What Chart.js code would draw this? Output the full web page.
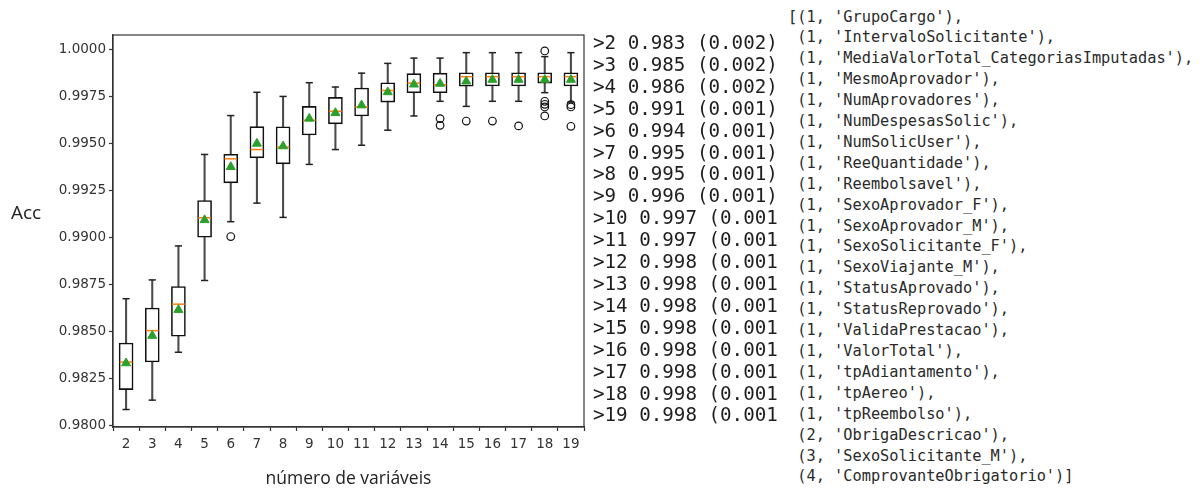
<!DOCTYPE html>
<html>
<head>
<meta charset="utf-8">
<script src="https://cdn.jsdelivr.net/npm/chart.js@4.4.0/dist/chart.umd.min.js"></script>
<style>
  html, body { margin: 0; padding: 0; background: #fff; }
  #wrap { position: relative; width: 1203px; height: 489px; overflow: hidden; }
  #chart { position: absolute; left: 0; top: 0; }
  pre { position: absolute; margin: 0; font-family: "DejaVu Sans Mono", monospace; color: #2a2a2a; white-space: pre; overflow: hidden; }
  #scores { left: 593px; top: 32px; font-size: 19.2px; line-height: 21.9px; width: 186px; color: #1e1e1e; }
  #features { left: 788px; top: 6.5px; font-size: 15.3px; line-height: 20.9px; }
</style>
</head>
<body>
<div id="wrap">
  <canvas id="chart" width="600" height="489"></canvas>
  <pre id="scores"></pre>
  <pre id="features"></pre>
</div>
<script>
'use strict';

// number of variables (x categories)
const numVars = [2, 3, 4, 5, 6, 7, 8, 9, 10, 11, 12, 13, 14, 15, 16, 17, 18, 19];

// boxplot stats
const whiskerLow  = [0.98083, 0.98133, 0.98388, 0.98770, 0.99083, 0.99182, 0.99106, 0.99388, 0.99467, 0.99490, 0.99570, 0.99646, 0.99724, 0.99697, 0.99724, 0.99724, 0.99770, 0.99720];
const q1          = [0.98189, 0.98336, 0.98473, 0.99000, 0.99290, 0.99423, 0.99391, 0.99545, 0.99604, 0.99646, 0.99720, 0.99770, 0.99770, 0.99804, 0.99806, 0.99806, 0.99821, 0.99806];
const median      = [0.98336, 0.98503, 0.98644, 0.99104, 0.99418, 0.99467, 0.99480, 0.99623, 0.99671, 0.99694, 0.99782, 0.99821, 0.99812, 0.99855, 0.99855, 0.99855, 0.99855, 0.99855];
const q3          = [0.98437, 0.98623, 0.98738, 0.99196, 0.99442, 0.99589, 0.99588, 0.99697, 0.99745, 0.99795, 0.99823, 0.99871, 0.99874, 0.99876, 0.99876, 0.99876, 0.99876, 0.99876];
const whiskerHigh = [0.98673, 0.98773, 0.98954, 0.99441, 0.99648, 0.99772, 0.99750, 0.99823, 0.99800, 0.99874, 0.99926, 0.99954, 0.99954, 0.99983, 0.99983, 0.99983, 0.99962, 0.99983];
const meanAcc     = [0.98330, 0.98476, 0.98614, 0.99092, 0.99375, 0.99499, 0.99485, 0.99632, 0.99662, 0.99703, 0.99773, 0.99814, 0.99818, 0.99830, 0.99839, 0.99839, 0.99839, 0.99839];
const outliers = [
  [], [], [], [], [0.99004], [], [], [], [], [], [], [],
  [0.99632, 0.99596], [0.99619], [0.99619], [0.99593],
  [0.99992, 0.99724, 0.99708, 0.99694, 0.99646],
  [0.99706, 0.99694, 0.99591]
];

const yTicks = [0.98, 0.9825, 0.985, 0.9875, 0.99, 0.9925, 0.995, 0.9975, 1.0];

// printed summary on the right
const meanText = ['0.983', '0.985', '0.986', '0.991', '0.994', '0.995', '0.995', '0.996', '0.997', '0.997', '0.998', '0.998', '0.998', '0.998', '0.998', '0.998', '0.998', '0.998'];
const stdText  = ['0.002', '0.002', '0.002', '0.001', '0.001', '0.001', '0.001', '0.001', '0.001', '0.001', '0.001', '0.001', '0.001', '0.001', '0.001', '0.001', '0.001', '0.001'];

const featureRank = [1, 1, 1, 1, 1, 1, 1, 1, 1, 1, 1, 1, 1, 1, 1, 1, 1, 1, 1, 1, 2, 3, 4];
const featureName = ['GrupoCargo', 'IntervaloSolicitante', 'MediaValorTotal_CategoriasImputadas', 'MesmoAprovador',
  'NumAprovadores', 'NumDespesasSolic', 'NumSolicUser', 'ReeQuantidade', 'Reembolsavel', 'SexoAprovador_F',
  'SexoAprovador_M', 'SexoSolicitante_F', 'SexoViajante_M', 'StatusAprovado', 'StatusReprovado', 'ValidaPrestacao',
  'ValorTotal', 'tpAdiantamento', 'tpAereo', 'tpReembolso', 'ObrigaDescricao', 'SexoSolicitante_M', 'ComprovanteObrigatorio'];

// text blocks
document.getElementById('scores').textContent =
  numVars.map((n, i) => '>' + n + ' ' + meanText[i] + ' (' + stdText[i] + ')').join('\n');
document.getElementById('features').textContent =
  '[' + featureName.map((f, i) => '(' + featureRank[i] + ", '" + f + "')").join(',\n ') + ']';

// datasets built from the arrays
const boxData = numVars.map((n, i) => ({ x: n, y: [q1[i], q3[i]] }));
const whiskerData = numVars.map((n, i) => ({ x: n, y: [whiskerLow[i], whiskerHigh[i]] }));
const capData = [];
numVars.forEach((n, i) => {
  capData.push({ x: n, y: whiskerLow[i] });
  capData.push({ x: n, y: whiskerHigh[i] });
});
const medianData = numVars.map((n, i) => ({ x: n, y: median[i] }));
const meanData = numVars.map((n, i) => ({ x: n, y: meanAcc[i] }));
const outlierData = [];
numVars.forEach((n, i) => outliers[i].forEach(v => outlierData.push({ x: n, y: v })));

const framePlugin = {
  id: 'frame',
  beforeDatasetsDraw(chart) {
    const a = chart.chartArea, ctx = chart.ctx;
    ctx.save();
    ctx.strokeStyle = '#333';
    ctx.lineWidth = 1.2;
    ctx.strokeRect(a.left, a.top, a.right - a.left, a.bottom - a.top);
    ctx.restore();
  },
  afterDraw(chart) {
    const a = chart.chartArea, ctx = chart.ctx;
    ctx.save();
    ctx.fillStyle = '#222';
    ctx.textBaseline = 'middle';
    ctx.font = '19px "Open Sans"';
    ctx.textAlign = 'left';
    ctx.fillText('Acc', 11, 214);
    ctx.font = '17.5px "Open Sans"';
    ctx.textAlign = 'center';
    ctx.fillText('número de variáveis', (a.left + a.right) / 2, 479);
    ctx.restore();
  }
};

const pointDefaults = { showLine: false, pointHoverRadius: 0 };

new Chart(document.getElementById('chart'), {
  type: 'bar',
  data: {
    datasets: [
      { type: 'scatter', data: outlierData, order: 1, ...pointDefaults,
        pointStyle: 'circle', pointRadius: 3.8, pointBackgroundColor: 'rgba(0,0,0,0)',
        pointBorderColor: '#111', pointBorderWidth: 1.2 },
      { type: 'scatter', data: meanData, order: 2, ...pointDefaults,
        pointStyle: 'triangle', pointRadius: 5.2, pointBackgroundColor: '#2ca02c',
        pointBorderColor: '#2ca02c', pointBorderWidth: 1 },
      { type: 'scatter', data: medianData, order: 3, ...pointDefaults,
        pointStyle: 'line', pointRadius: 6.3, pointBorderColor: '#ff7f0e', pointBorderWidth: 1.5 },
      { type: 'bar', data: boxData, order: 4, grouped: false, barThickness: 14,
        backgroundColor: '#ffffff', borderColor: '#111', borderWidth: 1.6, borderSkipped: false },
      { type: 'scatter', data: capData, order: 5, ...pointDefaults,
        pointStyle: 'line', pointRadius: 3.6, pointBorderColor: '#222', pointBorderWidth: 1.5 },
      { type: 'bar', data: whiskerData, order: 6, grouped: false, barThickness: 1.4,
        backgroundColor: '#4a4a4a', borderWidth: 0 }
    ]
  },
  options: {
    responsive: false,
    animation: false,
    events: [],
    layout: { padding: { top: 35, right: 16, left: 0, bottom: 0 } },
    plugins: { legend: { display: false }, tooltip: { enabled: false } },
    scales: {
      x: {
        type: 'linear', min: 1.5, max: 19.5, offset: false,
        afterBuildTicks: s => { s.ticks = numVars.map(v => ({ value: v })); },
        afterFit: s => { s.height = 62; },
        grid: { drawOnChartArea: false, tickLength: 4, tickColor: '#333', tickWidth: 1.2 },
        border: { display: true, color: '#333', width: 1.2 },
        ticks: { color: '#333', padding: 5, maxRotation: 0, autoSkip: false,
          font: { family: 'DejaVu Sans', size: 13.5 }, callback: v => String(v) }
      },
      y: {
        min: 0.97990, max: 1.00077,
        afterBuildTicks: s => { s.ticks = yTicks.map(v => ({ value: v })); },
        afterFit: s => { s.width = 113; },
        grid: { drawOnChartArea: false, tickLength: 4, tickColor: '#333', tickWidth: 1.2 },
        border: { display: true, color: '#333', width: 1.2 },
        ticks: { color: '#333', padding: 3, autoSkip: false,
          font: { family: 'DejaVu Sans', size: 13.5 }, callback: v => v.toFixed(4) }
      }
    }
  },
  plugins: [framePlugin]
});
</script>
</body>
</html>
